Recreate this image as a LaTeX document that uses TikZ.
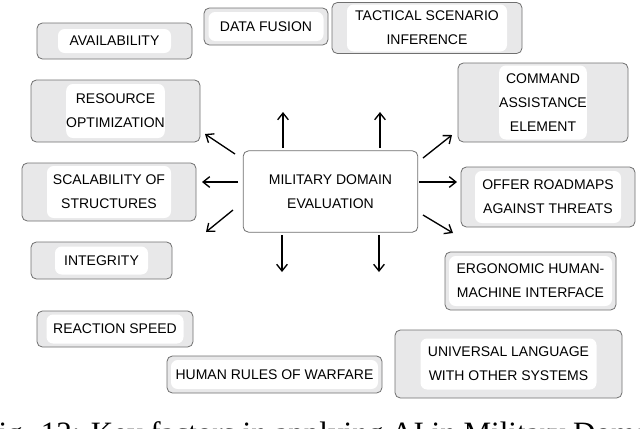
\documentclass[tikz,border=0pt]{standalone}
\usepackage{fontspec}
\setmainfont{Liberation Serif}
\newfontfamily\cardfont{Liberation Sans}
\usetikzlibrary{arrows.meta}

\begin{document}
\begin{tikzpicture}[x=0.75pt,y=-0.75pt,
  card/.style={draw=cardedge,fill=cardgray,rounded corners=4pt,line width=0.6pt,inner sep=0pt},
  cardtext/.style={fill=white,rounded corners=5pt,inner sep=0pt,align=center,font=\cardfont\fontsize{10.5}{18}\selectfont},
  arw/.style={-{Straight Barb[length=5pt,width=8pt]},line width=1pt}]
\definecolor{cardgray}{HTML}{E8E8E9}
\definecolor{cardedge}{HTML}{707070}
\path[use as bounding box,clip] (0,0) rectangle (640,429);
% factor boxes: name/x/y/width/height/inner width/inner height/text
\foreach \nm/\x/\y/\w/\h/\iw/\ih/\txt in {
  avail/114.5/41/155/36/113/24/AVAILABILITY,
  fusion/266/26.5/124/37/115/29/{DATA FUSION},
  tact/427/28/190/51/160/47/{TACTICAL SCENARIO\\INFERENCE},
  res/115.5/111/169/62/92/54/{RESOURCE\\OPTIMIZATION},
  cmd/543/102.5/170/79/84/74/{COMMAND\\ASSISTANCE\\ELEMENT},
  scal/109/192/174/58/124/52/{SCALABILITY OF\\STRUCTURES},
  offer/548/197/174/60/146/52/{OFFER ROADMAPS\\AGAINST THREATS},
  integ/101.5/260.5/141/37/93/28/INTEGRITY,
  ergo/530.5/281/171/58/163/50/{ERGONOMIC HUMAN-\\MACHINE INTERFACE},
  react/115/329/156/36/137/29/{REACTION SPEED},
  univ/508.5/364/227/68/176/51/{UNIVERSAL LANGUAGE\\WITH OTHER SYSTEMS},
  human/274.5/374.5/215/37/207/29/{HUMAN RULES OF WARFARE}}
  { \node[card,minimum width=\w*0.75pt,minimum height=\h*0.75pt] (\nm) at (\x,\y) {};
    \node[cardtext,minimum width=\iw*0.75pt,minimum height=\ih*0.75pt] (\nm-t) at (\nm) {\txt};}
\node[card,fill=white,minimum width=131pt,minimum height=61pt,align=center,
  font=\cardfont\fontsize{10.5}{18}\selectfont] (ctr) at (330.5,191.5) {MILITARY DOMAIN\\EVALUATION};
% arrows out of the centre
\foreach \i/\a/\b/\c/\d in {1/283/148/283/112, 2/380/148/380/112, 3/235/154/205/134,
  4/238/182/202/182, 5/233/210/206/232, 6/282/235/282/272, 7/379/235/379/272,
  8/423/158/452/135, 9/419/182/457/182, 10/423/215/453/233}
  { \coordinate (s\i) at (\a,\b);
    \coordinate (t\i) at (\c,\d);
    \draw[arw] (s\i) -- (t\i);}
\node[anchor=base west,inner sep=0pt,font=\fontsize{23.3}{28}\selectfont] (cap) at (-19,443)
  {Fig. 12: Key factors in applying AI in Military Domain};
\end{tikzpicture}
\end{document}
